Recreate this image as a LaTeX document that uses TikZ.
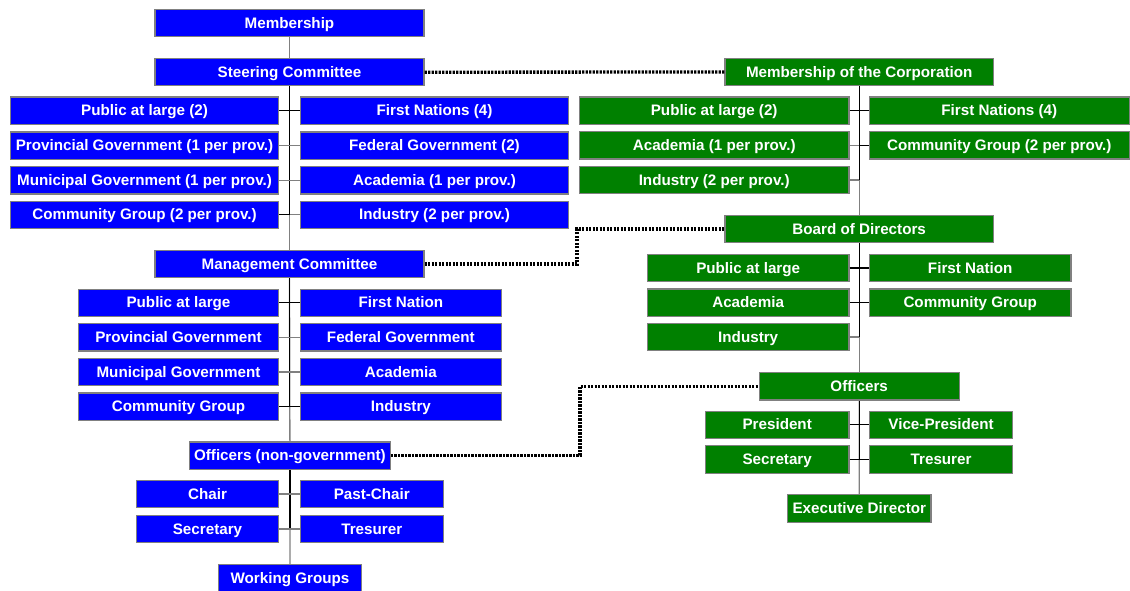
\documentclass[tikz,border=0pt]{standalone}
\usepackage{fontspec}
\setmainfont{Liberation Sans}
\definecolor{myblue}{HTML}{0000FF}
\definecolor{mygreen}{HTML}{008000}
\definecolor{boxgray}{HTML}{808080}
\definecolor{linegray}{HTML}{808080}
\tikzset{
 box/.style={draw=boxgray, line width=1.1pt, text=white, font=\bfseries\fontsize{15.2}{17}\selectfont, inner sep=0pt, text height=10.9pt, text depth=0.6pt, minimum height=27.4pt, anchor=center},
 bl/.style={box, fill=myblue},
 gr/.style={box, fill=mygreen},
 blk/.style={draw=black, line width=1.3pt},
 gry/.style={draw=linegray, line width=1.3pt},
 dotline/.style={draw=black, line width=3.3pt, dash pattern=on 2.4pt off 1.1pt, line join=miter},
}
\begin{document}
\begin{tikzpicture}[x=1pt,y=-1pt]
\useasboundingbox (0,0) rectangle (1130,590);
% ---------------- blue side ----------------
\node[bl, minimum width=269pt] (mem) at (289.5,23) {Membership};
\node[bl, minimum width=269pt] (steer) at (289.5,72.2) {Steering Committee};
\node[bl, minimum width=268pt] (sL1) at (144.5,110.7) {Public at large (2)};
\node[bl, minimum width=268pt] (sR1) at (434.5,110.7) {First Nations (4)};
\node[bl, minimum width=268pt] (sL2) at (144.5,145.7) {Provincial Government (1 per prov.)};
\node[bl, minimum width=268pt] (sR2) at (434.5,145.7) {Federal Government (2)};
\node[bl, minimum width=268pt] (sL3) at (144.5,180.3) {Municipal Government (1 per prov.)};
\node[bl, minimum width=268pt] (sR3) at (434.5,180.3) {Academia (1 per prov.)};
\node[bl, minimum width=268pt] (sL4) at (144.5,214.8) {Community Group (2 per prov.)};
\node[bl, minimum width=268pt] (sR4) at (434.5,214.8) {Industry (2 per prov.)};
\node[bl, minimum width=269pt] (mgmt) at (289.5,264) {Management Committee};
\node[bl, minimum width=200.5pt] (mL1) at (178.5,302.8) {Public at large};
\node[bl, minimum width=200.5pt] (mR1) at (400.9,302.8) {First Nation};
\node[bl, minimum width=200.5pt] (mL2) at (178.5,337.3) {Provincial Government};
\node[bl, minimum width=200.5pt] (mR2) at (400.9,337.3) {Federal Government};
\node[bl, minimum width=200.5pt] (mL3) at (178.5,372) {Municipal Government};
\node[bl, minimum width=200.5pt] (mR3) at (400.9,372) {Academia};
\node[bl, minimum width=200.5pt] (mL4) at (178.5,406.7) {Community Group};
\node[bl, minimum width=200.5pt] (mR4) at (400.9,406.7) {Industry};
\node[bl, minimum width=201pt] (offng) at (289.9,455.7) {Officers (non-government)};
\node[bl, minimum width=142pt] (oL1) at (207.5,494) {Chair};
\node[bl, minimum width=142.5pt] (oR1) at (371.8,494) {Past-Chair};
\node[bl, minimum width=142pt] (oL2) at (207.5,529) {Secretary};
\node[bl, minimum width=142.5pt] (oR2) at (371.8,529) {Tresurer};
\node[bl, minimum width=143pt] (wg) at (290,578) {Working Groups};
% ---------------- green side ----------------
\node[gr, minimum width=268.5pt] (motc) at (859.2,72) {Membership of the Corporation};
\node[gr, minimum width=269.5pt] (cL1) at (714.2,110.7) {Public at large (2)};
\node[gr, minimum width=259.5pt] (cR1) at (999.3,110.7) {First Nations (4)};
\node[gr, minimum width=269.5pt] (cL2) at (714.2,145.3) {Academia (1 per prov.)};
\node[gr, minimum width=259.5pt] (cR2) at (999.3,145.3) {Community Group (2 per prov.)};
\node[gr, minimum width=269.5pt] (cL3) at (714.2,180) {Industry (2 per prov.)};
\node[gr, minimum width=268.5pt] (board) at (859.2,229) {Board of Directors};
\node[gr, minimum width=201.5pt] (bL1) at (748.2,268) {Public at large};
\node[gr, minimum width=201.5pt] (bR1) at (970.2,268) {First Nation};
\node[gr, minimum width=201.5pt] (bL2) at (748.2,302.7) {Academia};
\node[gr, minimum width=201.5pt] (bR2) at (970.2,302.7) {Community Group};
\node[gr, minimum width=201.5pt] (bL3) at (748.2,337) {Industry};
\node[gr, minimum width=200.3pt] (ofc) at (859.2,386.3) {Officers};
\node[gr, minimum width=143.5pt] (fL1) at (777.2,424.8) {President};
\node[gr, minimum width=143.2pt] (fR1) at (941.1,424.8) {Vice-President};
\node[gr, minimum width=143.5pt] (fL2) at (777.2,459.5) {Secretary};
\node[gr, minimum width=143.2pt] (fR2) at (941.1,459.5) {Tresurer};
\node[gr, minimum width=143.4pt] (exec) at (859.3,508.5) {Executive Director};
% ---------------- blue connectors ----------------
\draw[gry] (mem.south) -- (steer.north);
\draw[gry] (steer.south) -- (mgmt.north);
\draw[blk] (steer.south) -- (steer.south |- sL4.east);
\draw[blk] (sL1.east) -- (sL1.east -| steer.south);
\draw[blk] (sR1.west) -- (sR1.west -| steer.south);
\draw[gry] (sL2.east) -- (sL2.east -| steer.south);
\draw[gry] (sR2.west) -- (sR2.west -| steer.south);
\draw[gry] (sL3.east) -- (sL3.east -| steer.south);
\draw[gry] (sR3.west) -- (sR3.west -| steer.south);
\draw[blk] (sL4.east) -- (sL4.east -| steer.south);
\draw[gry] (sR4.west) -- (sR4.west -| steer.south);
\draw[gry] (mgmt.south) -- (offng.north);
\draw[blk] (mgmt.south) -- (mgmt.south |- mL4.east);
\draw[blk] (mL1.east) -- (mL1.east -| mgmt.south);
\draw[blk] (mR1.west) -- (mR1.west -| mgmt.south);
\draw[gry] (mL2.east) -- (mL2.east -| mgmt.south);
\draw[gry] (mR2.west) -- (mR2.west -| mgmt.south);
\draw[gry] (mL3.east) -- (mL3.east -| mgmt.south);
\draw[gry] (mR3.west) -- (mR3.west -| mgmt.south);
\draw[blk] (mL4.east) -- (mL4.east -| mgmt.south);
\draw[blk] (mR4.west) -- (mR4.west -| mgmt.south);
\draw[gry] (offng.south) -- (wg.north);
\draw[blk] (offng.south) -- (offng.south |- oL2.east);
\draw[gry] (oL1.east) -- (oL1.east -| offng.south);
\draw[gry] (oR1.west) -- (oR1.west -| offng.south);
\draw[gry] (oL2.east) -- (oL2.east -| offng.south);
\draw[gry] (oR2.west) -- (oR2.west -| offng.south);
% ---------------- green connectors ----------------
\draw[gry] (motc.south) -- (board.north);
\draw[blk] (motc.south) -- (motc.south |- cL3.east);
\draw[blk] (cL1.east) -- (cL1.east -| motc.south);
\draw[blk] (cR1.west) -- (cR1.west -| motc.south);
\draw[gry] (cL2.east) -- (cL2.east -| motc.south);
\draw[blk] (cR2.west) -- (cR2.west -| motc.south);
\draw[gry] (cL3.east) -- (cL3.east -| motc.south);
\draw[gry] (board.south) -- (ofc.north);
\draw[blk] (board.south) -- (board.south |- bL3.east);
\draw[blk] (bL1.east) -- (bL1.east -| board.south);
\draw[blk] (bR1.west) -- (bR1.west -| board.south);
\draw[blk] (bL2.east) -- (bL2.east -| board.south);
\draw[blk] (bR2.west) -- (bR2.west -| board.south);
\draw[gry] (bL3.east) -- (bL3.east -| board.south);
\draw[gry] (ofc.south) -- (exec.north);
\draw[blk] (ofc.south) -- (ofc.south |- fL2.east);
\draw[blk] (fL1.east) -- (fL1.east -| ofc.south);
\draw[blk] (fR1.west) -- (fR1.west -| ofc.south);
\draw[blk] (fL2.east) -- (fL2.east -| ofc.south);
\draw[blk] (fR2.west) -- (fR2.west -| ofc.south);
% ---------------- dotted links ----------------
\coordinate (d2) at (577,0);
\coordinate (d3) at (580,0);
\draw[dotline] (steer.east) -- (motc.west);
\draw[dotline] (mgmt.east) -- (mgmt.east -| d2) -- (board.west -| d2) -- (board.west);
\draw[dotline] (offng.east) -- (offng.east -| d3) -- (ofc.west -| d3) -- (ofc.west);
\end{tikzpicture}
\end{document}
